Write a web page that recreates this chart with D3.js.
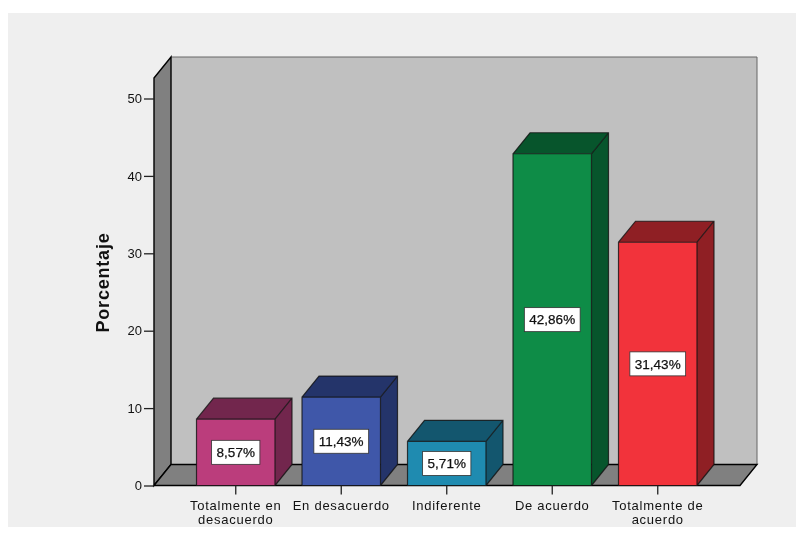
<!DOCTYPE html>
<html>
<head>
<meta charset="utf-8">
<script src="https://cdnjs.cloudflare.com/ajax/libs/d3/7.8.5/d3.min.js"></script>
<style>
  html, body { margin: 0; padding: 0; background: #fff; }
  svg { display: block; filter: blur(0.7px); }
  text { font-family: "Liberation Sans", Arial, sans-serif; fill: #111; }
</style>
</head>
<body>
<svg id="chart" width="796" height="545"></svg>
<script>
// data
var categories = ["Totalmente en desacuerdo", "En desacuerdo", "Indiferente", "De acuerdo", "Totalmente de acuerdo"];
var catLines = [["Totalmente en", "desacuerdo"], ["En desacuerdo"], ["Indiferente"], ["De acuerdo"], ["Totalmente de", "acuerdo"]];
var percents = [8.57, 11.43, 5.71, 42.86, 31.43];
var percentLabels = ["8,57%", "11,43%", "5,71%", "42,86%", "31,43%"];
var frontColors = ["#bb3d7c", "#3f57a9", "#1f8bb0", "#0e8c47", "#f2333b"];
var sideColors = ["#72264d", "#24346a", "#13566e", "#07552c", "#8f1f24"];
var yTicks = [0, 10, 20, 30, 40, 50];

var svg = d3.select("#chart");

// chart panel
svg.append("rect").attr("x", 8).attr("y", 13).attr("width", 788).attr("height", 514).attr("fill", "#efefef");

// scales
var x = d3.scaleBand().domain(categories).range([183, 710.5]).paddingInner(0.256).paddingOuter(0.128);
var y = d3.scaleLinear().domain([0, 50]).range([485.5, 98.5]);

// 3d offset and box limits
var dx = 17, dy = -21;
var left = 154, right = 740, bottom = y(0), top_ = 78;

// back wall
svg.append("rect")
    .attr("x", left + dx).attr("y", top_ + dy)
    .attr("width", right - left).attr("height", bottom - top_)
    .attr("fill", "#c0c0c0");
svg.append("path")
    .attr("d", `M${left + dx},${top_ + dy}H${right + dx}V${bottom + dy}`)
    .attr("fill", "none").attr("stroke", "#666").attr("stroke-width", 1);

// left wall
svg.append("path")
    .attr("d", `M${left},${top_}L${left + dx},${top_ + dy}V${bottom + dy}L${left},${bottom}Z`)
    .attr("fill", "#808080").attr("stroke", "#000").attr("stroke-width", 1.4);

// floor
svg.append("path")
    .attr("d", `M${left},${bottom}L${left + dx},${bottom + dy}H${right + dx}L${right},${bottom}Z`)
    .attr("fill", "#808080").attr("stroke", "#000").attr("stroke-width", 1.4);

// bars
var bars = svg.selectAll("g.bar")
    .data(categories)
    .join("g")
    .attr("class", "bar");

bars.append("path") // top face
    .attr("d", (d, i) => {
        var x0 = x(d), w = x.bandwidth(), t = y(percents[i]);
        return `M${x0},${t}L${x0 + dx},${t + dy}H${x0 + w + dx}L${x0 + w},${t}Z`;
    })
    .attr("fill", (d, i) => sideColors[i]);

bars.append("path") // side face
    .attr("d", (d, i) => {
        var x1 = x(d) + x.bandwidth(), t = y(percents[i]);
        return `M${x1},${t}L${x1 + dx},${t + dy}V${bottom + dy}L${x1},${bottom}Z`;
    })
    .attr("fill", (d, i) => sideColors[i]);

bars.append("rect") // front face
    .attr("x", d => x(d))
    .attr("y", (d, i) => y(percents[i]))
    .attr("width", x.bandwidth())
    .attr("height", (d, i) => bottom - y(percents[i]))
    .attr("fill", (d, i) => frontColors[i]);

bars.append("path") // outline
    .attr("d", (d, i) => {
        var x0 = x(d), w = x.bandwidth(), t = y(percents[i]);
        return `M${x0},${bottom}V${t}H${x0 + w}V${bottom}Z` +
               `M${x0},${t}L${x0 + dx},${t + dy}H${x0 + w + dx}V${bottom + dy}L${x0 + w},${bottom}` +
               `M${x0 + w},${t}L${x0 + w + dx},${t + dy}`;
    })
    .attr("fill", "none").attr("stroke", "#111").attr("stroke-width", 1.2).attr("stroke-opacity", 0.8);

// value labels
bars.each(function(d, i) {
    var g = d3.select(this);
    var cx = x(d) + x.bandwidth() / 2;
    var cy = (y(percents[i]) + bottom) / 2;
    var box = g.append("rect").attr("fill", "#fff").attr("stroke", "#333").attr("stroke-width", 0.8);
    var txt = g.append("text")
        .attr("x", cx).attr("y", cy)
        .attr("dy", "0.36em")
        .attr("text-anchor", "middle")
        .style("font-size", "13.5px")
        .style("stroke", "#111").style("stroke-width", 0.25)
        .text(percentLabels[i]);
    var b = txt.node().getBBox();
    box.attr("x", b.x - 5).attr("y", cy - 12).attr("width", b.width + 10).attr("height", 24);
});

// y axis
var yAxis = svg.append("g")
    .attr("transform", `translate(${left},0)`)
    .call(d3.axisLeft(y).tickValues(yTicks).tickSize(10).tickPadding(2).tickFormat(d3.format("d")));
yAxis.select(".domain").remove();
yAxis.selectAll("line").attr("stroke", "#222").attr("stroke-width", 1.3);
yAxis.selectAll("text").style("font-size", "13px").attr("fill", "#222");

// x axis ticks
var xAxis = svg.append("g")
    .attr("transform", `translate(0,${bottom})`)
    .call(d3.axisBottom(x).tickSize(9).tickFormat(""));
xAxis.select(".domain").remove();
xAxis.selectAll("line").attr("stroke", "#222").attr("stroke-width", 1.3);

// category labels
svg.selectAll("text.cat")
    .data(categories)
    .join("text")
    .attr("class", "cat")
    .attr("text-anchor", "middle")
    .attr("y", 510)
    .style("font-size", "13px")
    .style("letter-spacing", "0.75px")
    .each(function(d, i) {
        d3.select(this).selectAll("tspan")
            .data(catLines[i])
            .join("tspan")
            .attr("x", x(d) + x.bandwidth() / 2)
            .attr("dy", (l, j) => j ? 14 : 0)
            .text(l => l);
    });

// axis title
svg.append("text")
    .attr("transform", "translate(109,282.5) rotate(-90)")
    .attr("text-anchor", "middle")
    .style("font-size", "18px")
    .style("font-weight", "bold")
    .style("letter-spacing", "0.8px")
    .text("Porcentaje");
</script>
</body>
</html>
